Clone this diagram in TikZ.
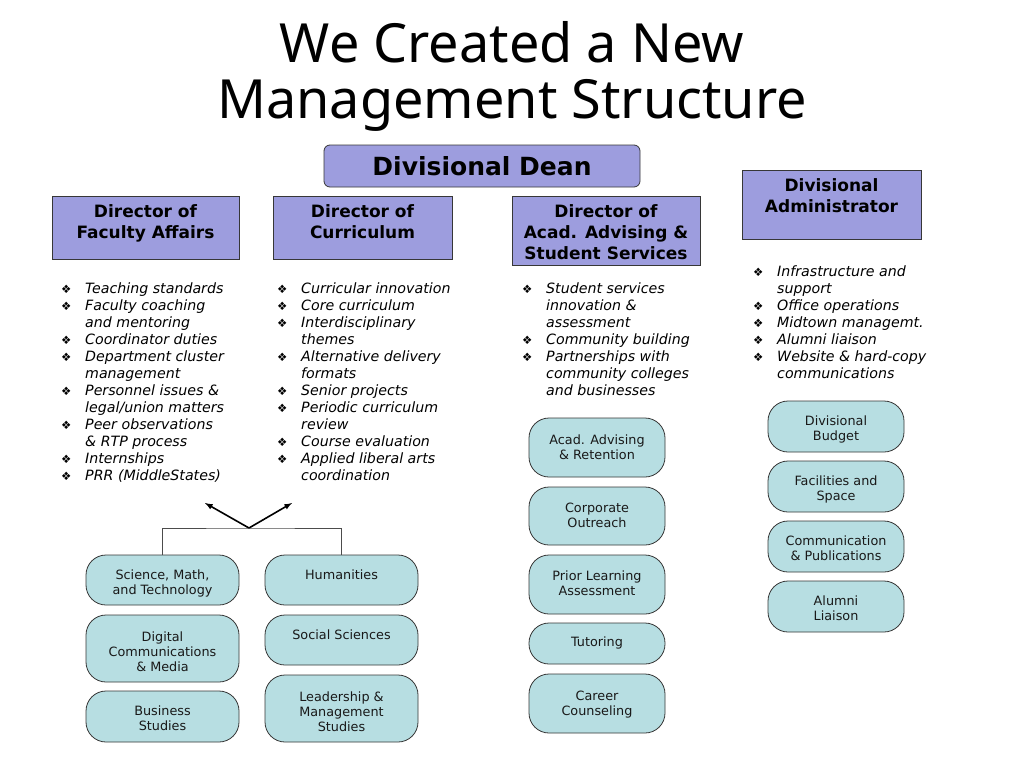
\documentclass[tikz,border=0pt]{standalone}
\usepackage{fontspec}
\setmainfont{DejaVu Sans}
\newfontfamily\titlefont{Noto Sans}
\definecolor{deanfill}{RGB}{157,157,222}
\definecolor{pillfill}{RGB}{183,222,226}
\definecolor{edgegray}{RGB}{55,55,55}
\newcommand{\bulletmark}{\makebox[24pt][l]{\upshape\fontsize{11.5}{11.5}\selectfont ❖}}
\newcommand{\hangon}{\hspace*{24pt}}

\begin{document}
\begin{tikzpicture}
[every node/.style={inner sep=0pt},
 dirbox/.style={rectangle, fill=deanfill, line width=0.8pt, draw=edgegray},
 dirtext/.style={anchor=north, align=center, font=\bfseries\fontsize{17}{21}\selectfont},
 duties/.style={anchor=north west, align=left, font=\itshape\fontsize{14.2}{17}\selectfont},
 pill/.style={rectangle, rounded corners=20pt, fill=pillfill, line width=0.8pt, draw=edgegray},
 pilltext/.style={anchor=north, align=center, font=\fontsize{12.8}{15}\selectfont, text=black!90}]
\useasboundingbox (0pt, 0pt) rectangle (1024pt, -768pt);
\fill [white] (0pt, 0pt) rectangle (1024pt, -768pt);
% title
\node (title) [align=center, font=\titlefont\fontsize{54}{56}\selectfont] at (512.0pt, -76.0pt) {We Created a New\\Management Structure};
% top of the structure
\node (dean) [rectangle, rounded corners=6pt, minimum width=316pt, minimum height=42pt, fill=deanfill, line width=0.8pt, draw=edgegray, font=\bfseries\fontsize{25}{28}\selectfont] at (482.0pt, -166.0pt) {Divisional Dean};
\node (fac) [dirbox, minimum width=187pt, minimum height=63pt] at (145.5pt, -227.5pt) {};
\node (facT) [dirtext] at ([yshift=-9pt]fac.north) {Director of\\Faculty Affairs};
\node (cur) [dirbox, minimum width=179pt, minimum height=63pt] at (362.5pt, -227.5pt) {};
\node (curT) [dirtext] at ([yshift=-9pt]cur.north) {Director of\\Curriculum};
\node (adv) [dirbox, minimum width=188pt, minimum height=69pt] at (606.0pt, -230.5pt) {};
\node (advT) [dirtext] at ([yshift=-9pt]adv.north) {Director of\\Acad. Advising \&\\Student Services};
\node (adm) [dirbox, minimum width=179pt, minimum height=69pt] at (831.5pt, -204.5pt) {};
\node (admT) [dirtext] at ([yshift=-9pt]adm.north) {Divisional\\Administrator};
% duties under each director
\node (facL) [duties] at (61.0pt, -282.5pt) {\bulletmark Teaching standards\\\bulletmark Faculty coaching\\\hangon and mentoring\\\bulletmark Coordinator duties\\\bulletmark Department cluster\\\hangon management\\\bulletmark Personnel issues \&\\\hangon legal/union matters\\\bulletmark Peer observations\\\hangon \& RTP process\\\bulletmark Internships\\\bulletmark PRR (MiddleStates)};
\node (curL) [duties] at (277.0pt, -282.5pt) {\bulletmark Curricular innovation\\\bulletmark Core curriculum\\\bulletmark Interdisciplinary\\\hangon themes\\\bulletmark Alternative delivery\\\hangon formats\\\bulletmark Senior projects\\\bulletmark Periodic curriculum\\\hangon review\\\bulletmark Course evaluation\\\bulletmark Applied liberal arts\\\hangon coordination};
\node (advL) [duties] at (522.0pt, -282.5pt) {\bulletmark Student services\\\hangon innovation \&\\\hangon assessment\\\bulletmark Community building\\\bulletmark Partnerships with\\\hangon community colleges\\\hangon and businesses};
\node (admL) [duties] at (753.0pt, -265.5pt) {\bulletmark Infrastructure and\\\hangon support\\\bulletmark Office operations\\\bulletmark Midtown managemt.\\\bulletmark Alumni liaison\\\bulletmark Website \& hard-copy\\\hangon communications};
% departments
\node (sci) [pill, minimum width=153pt, minimum height=50pt] at (162.5pt, -580.0pt) {};
\node (sciT) [pilltext] at ([yshift=-15pt]sci.north) {Science, Math,\\and Technology};
\node (dig) [pill, minimum width=153pt, minimum height=67pt] at (162.5pt, -648.5pt) {};
\node (digT) [pilltext] at ([yshift=-17pt]dig.north) {Digital\\Communications\\\& Media};
\node (bus) [pill, minimum width=153pt, minimum height=51pt] at (162.5pt, -716.5pt) {};
\node (busT) [pilltext] at ([yshift=-15pt]bus.north) {Business\\Studies};
\node (hum) [pill, minimum width=153pt, minimum height=50pt] at (341.5pt, -580.0pt) {};
\node (humT) [pilltext] at ([yshift=-15pt]hum.north) {Humanities};
\node (soc) [pill, minimum width=153pt, minimum height=50pt] at (341.5pt, -640.0pt) {};
\node (socT) [pilltext] at ([yshift=-15pt]soc.north) {Social Sciences};
\node (lea) [pill, minimum width=153pt, minimum height=67pt] at (341.5pt, -708.5pt) {};
\node (leaT) [pilltext] at ([yshift=-17pt]lea.north) {Leadership \&\\Management\\Studies};
% advising units
\node (ret) [pill, minimum width=136pt, minimum height=59pt] at (597.0pt, -447.5pt) {};
\node (retT) [pilltext] at ([yshift=-17pt]ret.north) {Acad. Advising\\\& Retention};
\node (cor) [pill, minimum width=136pt, minimum height=58pt] at (597.0pt, -516.0pt) {};
\node (corT) [pilltext] at ([yshift=-16pt]cor.north) {Corporate\\Outreach};
\node (pla) [pill, minimum width=136pt, minimum height=59pt] at (597.0pt, -584.5pt) {};
\node (plaT) [pilltext] at ([yshift=-16pt]pla.north) {Prior Learning\\Assessment};
\node (tut) [pill, minimum width=136pt, minimum height=41pt] at (597.0pt, -643.5pt) {};
\node (tutT) [pilltext] at ([yshift=-14pt]tut.north) {Tutoring};
\node (car) [pill, minimum width=136pt, minimum height=59pt] at (597.0pt, -703.5pt) {};
\node (carT) [pilltext] at ([yshift=-17pt]car.north) {Career\\Counseling};
% administration units
\node (bud) [pill, minimum width=136pt, minimum height=51pt] at (836.0pt, -426.5pt) {};
\node (budT) [pilltext] at ([yshift=-15pt]bud.north) {Divisional\\Budget};
\node (fcl) [pill, minimum width=136pt, minimum height=51pt] at (836.0pt, -486.5pt) {};
\node (fclT) [pilltext] at ([yshift=-15pt]fcl.north) {Facilities and\\Space};
\node (com) [pill, minimum width=136pt, minimum height=51pt] at (836.0pt, -546.5pt) {};
\node (comT) [pilltext] at ([yshift=-15pt]com.north) {Communication\\\& Publications};
\node (alu) [pill, minimum width=136pt, minimum height=51pt] at (836.0pt, -606.5pt) {};
\node (aluT) [pilltext] at ([yshift=-15pt]alu.north) {Alumni\\Liaison};
% clusters report to both directors
\coordinate (fork) at (249.0pt, -528.0pt);
\coordinate (toFac) at (205.0pt, -503.0pt);
\coordinate (toCur) at (292.0pt, -503.0pt);
\draw [line width=0.8pt, color=black!70] (sci.north) |- (fork) -| (hum.north);
\draw [line width=1.6pt, -latex, color=black] (fork) to (toFac);
\draw [line width=1.6pt, -latex, color=black] (fork) to (toCur);
\end{tikzpicture}
\end{document}
